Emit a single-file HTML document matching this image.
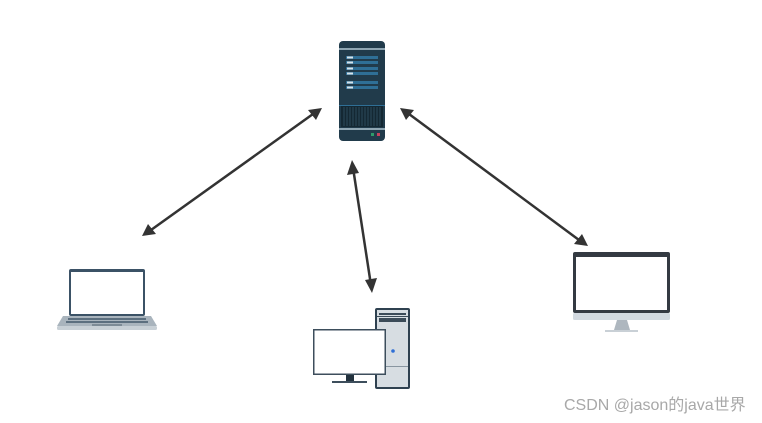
<!DOCTYPE html>
<html><head><meta charset="utf-8"><style>
html,body{margin:0;padding:0;background:#fff;width:762px;height:423px;overflow:hidden}
</style></head><body>
<svg width="762" height="423" viewBox="0 0 762 423" xmlns="http://www.w3.org/2000/svg">
<!-- server -->
<rect x="339" y="41" width="46" height="100" rx="4" fill="#213b4b"/>
<rect x="339" y="48" width="46" height="2" fill="#8fa6b3"/>
<g fill="#2f6f96">
<rect x="346" y="56" width="32" height="3"/><rect x="346" y="61" width="32" height="3"/>
<rect x="346" y="67" width="32" height="3"/><rect x="346" y="72" width="32" height="3"/>
<rect x="346" y="81" width="32" height="3"/><rect x="346" y="86" width="32" height="3"/>
</g>
<g fill="#d6e3ea">
<rect x="347" y="56.5" width="6" height="2"/><rect x="347" y="61.5" width="6" height="2"/>
<rect x="347" y="67.5" width="6" height="2"/><rect x="347" y="72.5" width="6" height="2"/>
<rect x="347" y="81.5" width="6" height="2"/><rect x="347" y="86.5" width="6" height="2"/>
</g>
<rect x="339" y="105" width="46" height="1" fill="#2f6f96"/>
<rect x="341" y="106" width="42" height="21" fill="#142833"/>
<g stroke="#2b4a5b" stroke-width="1">
<line x1="344" y1="107" x2="344" y2="126"/><line x1="347" y1="107" x2="347" y2="126"/><line x1="350" y1="107" x2="350" y2="126"/><line x1="353" y1="107" x2="353" y2="126"/><line x1="356" y1="107" x2="356" y2="126"/><line x1="359" y1="107" x2="359" y2="126"/><line x1="362" y1="107" x2="362" y2="126"/><line x1="365" y1="107" x2="365" y2="126"/><line x1="368" y1="107" x2="368" y2="126"/><line x1="371" y1="107" x2="371" y2="126"/><line x1="374" y1="107" x2="374" y2="126"/><line x1="377" y1="107" x2="377" y2="126"/><line x1="380" y1="107" x2="380" y2="126"/>
</g>
<rect x="339" y="128" width="46" height="2" fill="#8fa6b3"/>
<rect x="371" y="133" width="3" height="3" fill="#2e9c6a"/>
<rect x="377" y="133" width="3" height="3" fill="#c8415e"/>

<!-- arrows -->
<g stroke="#333" stroke-width="2.5" fill="none">
<line x1="151" y1="230" x2="313" y2="114"/>
<line x1="353.5" y1="171" x2="370.5" y2="282"/>
<line x1="409" y1="114" x2="579" y2="240"/>
</g>
<g fill="#333">
<polygon points="142,236 148,224 156,234"/>
<polygon points="322,108 316,120 308,110"/>
<polygon points="352,160 359,173 347,175"/>
<polygon points="372,293 365,280 377,278"/>
<polygon points="400,108 414,110 406,120"/>
<polygon points="588,246 574,244 582,234"/>
</g>

<!-- laptop -->
<rect x="69" y="269" width="76" height="47" rx="2" fill="#3b5266"/>
<rect x="71" y="272" width="72" height="42" fill="#fff"/>
<polygon points="63,316 151,316 157,326 57,326" fill="#a9b4bd"/>
<rect x="57" y="326" width="100" height="4" rx="1.5" fill="#c8d0d6"/>
<g fill="#5c6f7f">
<rect x="68" y="318" width="78" height="2"/><rect x="66" y="321" width="82" height="2"/>
</g>
<rect x="92" y="324" width="30" height="2" fill="#7d8b96"/>

<!-- desktop -->
<rect x="375" y="308" width="35" height="81" rx="2" fill="#2f4150"/>
<rect x="377" y="310" width="31" height="77" fill="#d7dde2"/>
<rect x="379" y="313" width="27" height="2" fill="#3b4b58"/>
<rect x="379" y="318" width="27" height="4" fill="#3b4b58"/>
<rect x="377" y="316" width="31" height="1" fill="#3b4b58"/>
<rect x="377" y="366" width="31" height="1" fill="#8895a0"/>
<circle cx="393" cy="351" r="1.8" fill="#2f6fd6"/>
<rect x="313" y="329" width="73" height="46" fill="#3d4e5c"/>
<rect x="314.5" y="330.5" width="70" height="43" fill="#fff"/>
<rect x="346" y="375" width="8" height="6" fill="#22323e"/>
<rect x="332" y="381" width="35" height="2" fill="#3d4e5c"/>

<!-- imac -->
<rect x="573" y="252" width="97" height="61" rx="2" fill="#343a42"/>
<rect x="576" y="257" width="91" height="53" fill="#fff"/>
<rect x="573" y="313" width="97" height="7" rx="1.5" fill="#d2d9e0"/>
<polygon points="617,320 627,320 630,330 614,330" fill="#aeb7bf"/>
<rect x="605" y="330" width="33" height="2" fill="#c9d0d6"/>

<text x="564" y="410" font-family="'Liberation Sans','Noto Sans CJK SC',sans-serif" font-size="16" fill="#a8a8a8">CSDN @jason的java世界</text>
</svg>
</body></html>
